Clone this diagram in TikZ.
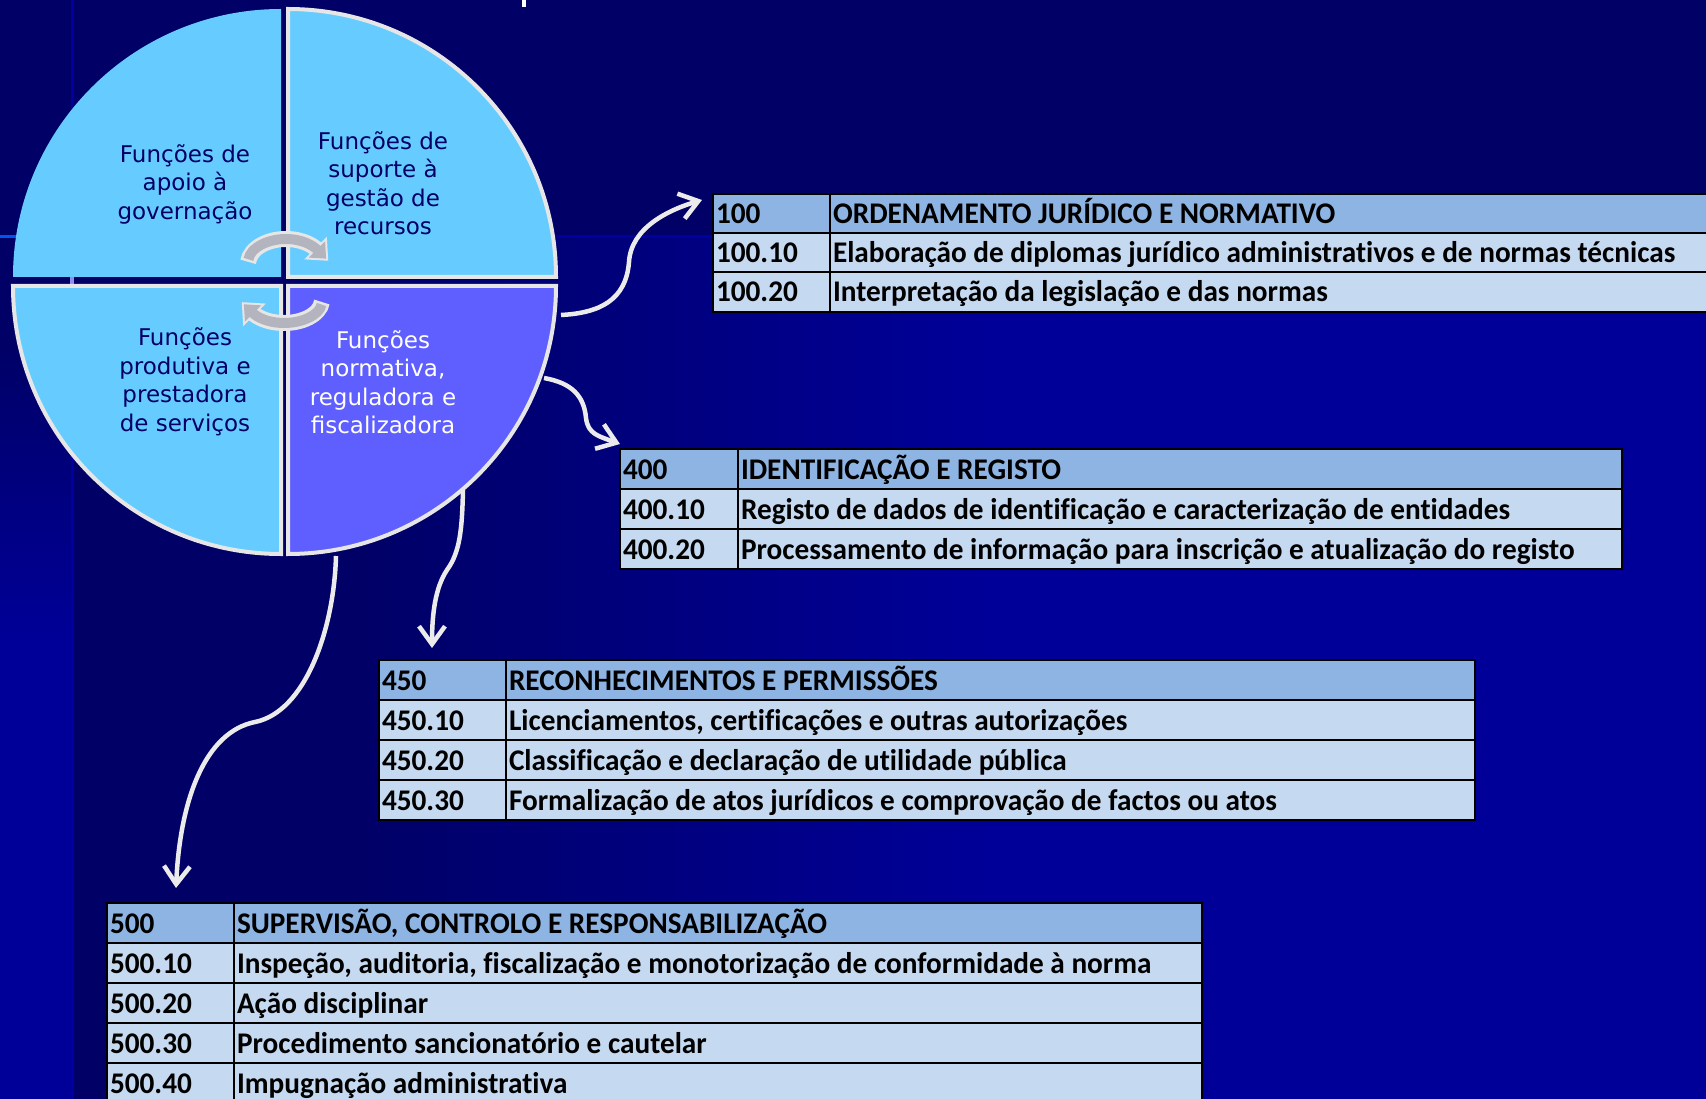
\documentclass[tikz,border=0pt]{standalone}
\usepackage{fontspec}
\setmainfont{DejaVu Sans}
\newfontfamily\tabfont[FakeStretch=0.975,Ligatures=NoCommon]{Carlito}
\usetikzlibrary{arrows.meta,calc}
\definecolor{navybg}{HTML}{000066}
\definecolor{navylt}{HTML}{000099}
\definecolor{gridln}{HTML}{0000A0}
\definecolor{gridhi}{HTML}{0055EE}
\definecolor{gridpu}{HTML}{9090F0}
\definecolor{quadlt}{HTML}{66CCFF}
\definecolor{quadhl}{HTML}{5F5FFF}
\definecolor{rimgray}{HTML}{E6E6E6}
\definecolor{cyclegray}{HTML}{B4B4BE}
\definecolor{hdrblue}{HTML}{8DB4E2}
\definecolor{rowblue}{HTML}{C5D9F1}
\definecolor{flowgray}{HTML}{EBEBEB}

\begin{document}
\begin{tikzpicture}[x=1pt,y=-1pt]
    \tikzset{quad/.style = {fill=quadlt, draw=rimgray, line width=4pt}}
    \tikzset{qtext/.style = {align=center, text=navybg, font=\fontsize{23}{28.5}\selectfont}}
    \tikzset{cell/.style = {draw=black, line width=2.4pt, fill=rowblue, anchor=north west, outer sep=0pt,
        inner xsep=3pt, inner ysep=5pt, minimum height=40pt, text height=25pt, text depth=5pt,
        align=flush left, font=\tabfont\bfseries\fontsize{30}{30}\selectfont}}
    \tikzset{hcell/.style = {cell, fill=hdrblue}}
    \tikzset{flow/.style = {draw=flowgray, line width=4.5pt, -{Straight Barb[length=18pt,width=26pt]}}}
    \tikzset{cycrim/.style = {draw=rimgray, line width=16pt, -{Triangle[length=18pt,width=32pt,line width=0pt]}}}
    \tikzset{cycband/.style = {draw=cyclegray, line width=10pt, shorten <=2.5pt, shorten >=3pt,
        -{Triangle[length=13pt,width=23pt,line width=0pt]}}}

    \useasboundingbox (0,0) rectangle (1706,1099);

    % background
    \fill[navybg] (0,0) rectangle (1706,1099);
    \shade[left color=navybg, right color=navylt] (350,237) rectangle (1000,1099);
    \fill[navylt] (1000,237) rectangle (1706,1099);
    \shade[top color=navybg, bottom color=navylt] (0,340) rectangle (72,650);
    \fill[navylt] (0,650) rectangle (72,1099);
    \draw[gridln, line width=3pt] (72,237) -- (1706,237);
    \draw[gridhi, line width=3pt] (0,237) -- (72,237);
    \draw[gridln, line width=3pt] (72,0) -- (72,1099);
    \draw[gridpu, line width=4pt] (72,262) -- (72,300);
    \fill[white] (522,0) rectangle (526,7);

    % quadrants
    \fill[quadlt] (281,277) -- (13,277) arc[start angle=180, end angle=270, radius=268] -- cycle;
    \draw[quad] (288,277) -- (288,9) arc[start angle=270, end angle=360, radius=268] -- cycle;
    \draw[quad] (281,286) -- (281,554) arc[start angle=90, end angle=180, radius=268] -- cycle;
    \draw[quad, fill=quadhl] (288,286) -- (556,286) arc[start angle=0, end angle=90, radius=268] -- cycle;

    \node[qtext] (qgov) at (185,184) {Funções de\\apoio à\\governação};
    \node[qtext] (qsup) at (383,183) {Funções de\\suporte à\\gestão de\\recursos};
    \node[qtext] (qprod) at (185,382) {Funções\\produtiva e\\prestadora\\de serviços};
    \node[qtext, text=white] (qnorm) at (383,382) {Funções\\normativa,\\reguladora e\\fiscalizadora};

    % cycle arrows
    \draw[cycrim] (286,264) ++(185:38 and 25) arc[start angle=185, end angle=328, x radius=38, y radius=25] -- ++(10,10);
    \draw[cycband] (286,264) ++(185:38 and 25) arc[start angle=185, end angle=328, x radius=38, y radius=25] -- ++(10,10);
    \draw[cycrim] (284,300) ++(5:38 and 23) arc[start angle=5, end angle=148, x radius=38, y radius=23] -- ++(-10,-10);
    \draw[cycband] (284,300) ++(5:38 and 23) arc[start angle=5, end angle=148, x radius=38, y radius=23] -- ++(-10,-10);

    % tables
    \node[hcell, text width=111pt] (t100a) at (713,194) {100};
    \node[hcell, text width=964pt] (t100b) at (830,194) {ORDENAMENTO JURÍDICO E NORMATIVO};
    \node[cell, text width=111pt] (t110a) at (713,233) {100.10};
    \node[cell, text width=964pt] (t110b) at (830,233) {Elaboração de diplomas jurídico administrativos e de normas técnicas};
    \node[cell, text width=111pt] (t120a) at (713,272) {100.20};
    \node[cell, text width=964pt] (t120b) at (830,272) {Interpretação da legislação e das normas};

    \node[hcell, text width=112pt] (t400a) at (620,449) {400};
    \node[hcell, text width=878pt] (t400b) at (738,449) {IDENTIFICAÇÃO E REGISTO};
    \node[cell, text width=112pt] (t410a) at (620,489) {400.10};
    \node[cell, text width=878pt] (t410b) at (738,489) {Registo de dados de identificação e caracterização de entidades};
    \node[cell, text width=112pt] (t420a) at (620,529) {400.20};
    \node[cell, text width=878pt] (t420b) at (738,529) {Processamento de informação para inscrição e atualização do registo};

    \node[hcell, text width=121pt] (t450a) at (379,660) {450};
    \node[hcell, text width=963pt] (t450b) at (506,660) {RECONHECIMENTOS E PERMISSÕES};
    \node[cell, text width=121pt] (t451a) at (379,700) {450.10};
    \node[cell, text width=963pt] (t451b) at (506,700) {Licenciamentos, certificações e outras autorizações};
    \node[cell, text width=121pt] (t452a) at (379,740) {450.20};
    \node[cell, text width=963pt] (t452b) at (506,740) {Classificação e declaração de utilidade pública};
    \node[cell, text width=121pt] (t453a) at (379,780) {450.30};
    \node[cell, text width=963pt] (t453b) at (506,780) {Formalização de atos jurídicos e comprovação de factos ou atos};

    \node[hcell, text width=121pt] (t500a) at (107,903) {500};
    \node[hcell, text width=962pt] (t500b) at (234,903) {SUPERVISÃO, CONTROLO E RESPONSABILIZAÇÃO};
    \node[cell, text width=121pt] (t510a) at (107,943) {500.10};
    \node[cell, text width=962pt] (t510b) at (234,943) {Inspeção, auditoria, fiscalização e monotorização de conformidade à norma};
    \node[cell, text width=121pt] (t520a) at (107,983) {500.20};
    \node[cell, text width=962pt] (t520b) at (234,983) {Ação disciplinar};
    \node[cell, text width=121pt] (t530a) at (107,1023) {500.30};
    \node[cell, text width=962pt] (t530b) at (234,1023) {Procedimento sancionatório e cautelar};
    \node[cell, text width=121pt] (t540a) at (107,1063) {500.40};
    \node[cell, text width=962pt] (t540b) at (234,1063) {Impugnação administrativa};

    % connectors
    \coordinate (s1) at (561,315);
    \coordinate (s2) at (544,378);
    \coordinate (s3) at (463,490);
    \coordinate (s4) at (336,556);
    \coordinate (e1) at ($(t100a.north west)+(-11,6)$);
    \coordinate (e2) at ($(t400a.north west)+(0,-5)$);
    \coordinate (e3) at ($(t450a.north west)+(53,-12)$);
    \coordinate (e4) at ($(t500a.north west)+(69,-15)$);

    \draw[flow] (s1) .. controls (600,313) and (626,300) .. (629,262) .. controls (631,228) and (668,210) .. (e1);
    \draw[flow] (s2) .. controls (572,383) and (584,396) .. (586,418) .. controls (588,434) and (598,436) .. (e2);
    \draw[flow] (s3) .. controls (462,530) and (460,552) .. (447,570) .. controls (435,588) and (432,615) .. (e3);
    \draw[flow] (s4) .. controls (334,630) and (305,712) .. (255,722) .. controls (205,732) and (180,800) .. (e4);
\end{tikzpicture}
\end{document}
